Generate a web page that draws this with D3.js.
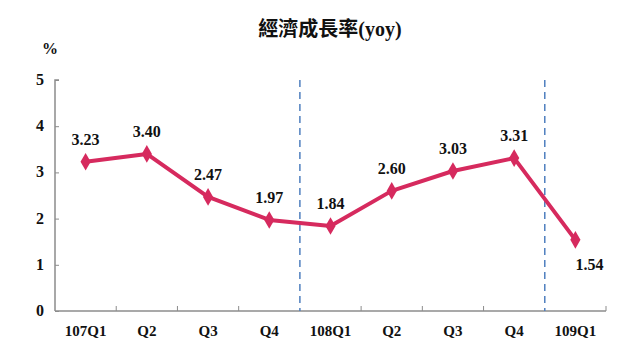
<!DOCTYPE html>
<html><head><meta charset="utf-8">
<script src="https://cdn.jsdelivr.net/npm/d3@7"></script>
<style>
body{margin:0;background:#fff;}
text{font-family:"Liberation Serif","Times New Roman","Noto Sans CJK TC",serif;font-weight:bold;fill:#111;}
</style></head>
<body><svg id="c" width="640" height="360"></svg>
<script>
const categories = ["107Q1","Q2","Q3","Q4","108Q1","Q2 ","Q3 ","Q4 ","109Q1"];
const values = [3.23,3.40,2.47,1.97,1.84,2.60,3.03,3.31,1.54];
const yTicks = [0,1,2,3,4,5];
const yearBreaks = [4,8];
const title = "經濟成長率(yoy)";
const unit = "%";

(function(){
const svg = d3.select("#c");
const mLeft = 55, mRight = 606, mTop = 80, mBottom = 311;
const x = d3.scaleBand().domain(categories).range([mLeft,mRight]).padding(0);
const y = d3.scaleLinear().domain([0,5]).range([mBottom,mTop]);
const axisColor = "#8c8c8c";
const lineColor = "#d62a5e";

svg.append("text").attr("x",330).attr("y",36).attr("text-anchor","middle")
  .style("font-size","20px").text(title);
svg.append("text").attr("x",50).attr("y",54).attr("text-anchor","middle")
  .style("font-size","16px").text(unit);

// y axis
const ya = svg.append("g").attr("transform",`translate(${mLeft},0)`)
  .call(d3.axisRight(y).tickValues(yTicks).tickSize(4).tickFormat(""));
ya.select(".domain").attr("stroke",axisColor).attr("stroke-width",1.5).attr("d",`M4,${mTop}H0V${mBottom}`);
ya.selectAll(".tick line").attr("stroke",axisColor);
svg.selectAll(".ylab").data(yTicks).enter().append("text")
  .attr("x",40).attr("y",d=>y(d)+5).attr("text-anchor","middle")
  .style("font-size","16px").text(d=>d);

// x axis
const boundaries = d3.range(1,categories.length+1).map(i=>mLeft+i*x.bandwidth());
svg.append("line").attr("x1",mLeft).attr("x2",mRight).attr("y1",mBottom).attr("y2",mBottom)
  .attr("stroke",axisColor).attr("stroke-width",1.5);
svg.selectAll(".xt").data(boundaries.filter((b,i)=>!yearBreaks.includes(i+1))).enter().append("line")
  .attr("x1",d=>d).attr("x2",d=>d).attr("y1",mBottom).attr("y2",mBottom-5).attr("stroke",axisColor);
svg.selectAll(".brk").data(yearBreaks).enter().append("line")
  .attr("x1",d=>mLeft+d*x.bandwidth()).attr("x2",d=>mLeft+d*x.bandwidth())
  .attr("y1",mTop).attr("y2",mBottom)
  .attr("stroke","#4f7fbf").attr("stroke-width",1.5).attr("stroke-dasharray","7,5");
svg.selectAll(".xlab").data(categories).enter().append("text")
  .attr("x",d=>x(d)+x.bandwidth()/2).attr("y",336).attr("text-anchor","middle")
  .style("font-size","15px").text(d=>d.trim());

// line
const cx = (d,i)=>x(categories[i])+x.bandwidth()/2;
svg.append("path").datum(values)
  .attr("d",d3.line().x(cx).y(d=>y(d)))
  .attr("fill","none").attr("stroke",lineColor).attr("stroke-width",4).attr("stroke-linejoin","round");
svg.selectAll(".pt").data(values).enter().append("path")
  .attr("d",d3.symbol().type(d3.symbolDiamond).size(90))
  .attr("transform",(d,i)=>`translate(${cx(d,i)},${y(d)})`)
  .attr("fill",lineColor);
svg.selectAll(".vl").data(values).enter().append("text")
  .attr("x",(d,i)=>i===values.length-1?cx(d,i)+14:cx(d,i))
  .attr("y",(d,i)=>i===values.length-1?y(d)+30:y(d)-17)
  .attr("text-anchor","middle").style("font-size","16px")
  .text(d=>d.toFixed(2));
})();
</script></body></html>
